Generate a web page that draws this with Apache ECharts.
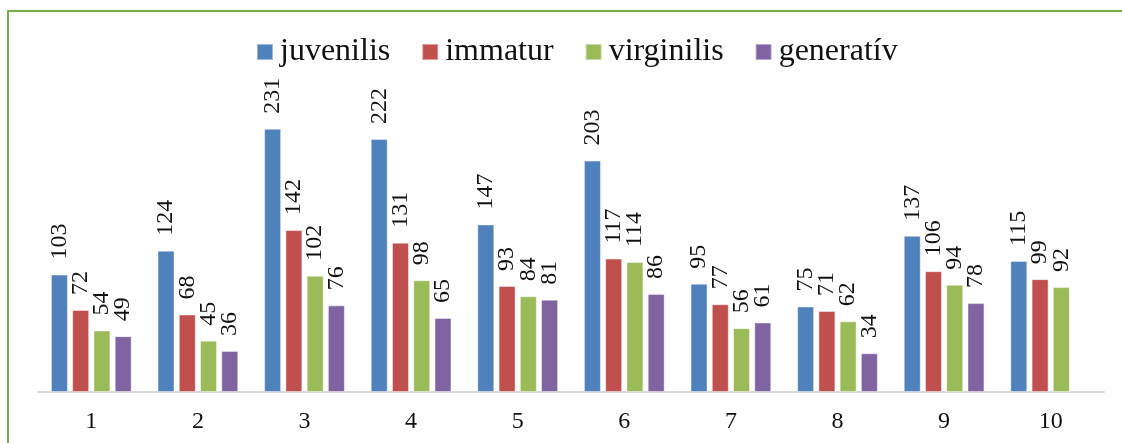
<!DOCTYPE html>
<html>
<head>
<meta charset="utf-8">
<style>
  html, body { margin: 0; padding: 0; background: #fff; }
  #chart { width: 1122px; height: 443px; }
</style>
<script src="https://cdn.jsdelivr.net/npm/echarts@6/dist/echarts.min.js"></script>
</head>
<body>
<div id="chart"></div>
<script>
// Plot numbers (1–10) and counts per developmental stage
const categories = ['1', '2', '3', '4', '5', '6', '7', '8', '9', '10'];
const juvenilis  = [103, 124, 231, 222, 147, 203, 95, 75, 137, 115];
const immatur    = [72, 68, 142, 131, 93, 117, 77, 71, 106, 99];
const virginilis = [54, 45, 102, 98, 84, 114, 56, 62, 94, 92];
const generativ  = [49, 36, 76, 65, 81, 86, 61, 34, 78, null];

const serif = "'Liberation Serif', 'Times New Roman', serif";

function barSeries(name, data, color) {
  return {
    name: name,
    type: 'bar',
    data: data,
    barWidth: 17,
    barGap: '25%',
    itemStyle: { color: color, borderColor: 'rgba(255,255,255,0.45)', borderWidth: 1 },
    label: {
      show: true,
      position: 'top',
      rotate: 90,
      align: 'left',
      verticalAlign: 'middle',
      distance: 15,
      fontFamily: serif,
      fontSize: 24,
      color: '#111'
    }
  };
}

const chart = echarts.init(document.getElementById('chart'), null, { renderer: 'canvas' });
chart.setOption({
  backgroundColor: '#fff',
  animation: false,
  graphic: [{
    type: 'rect',
    shape: { x: 8, y: 11, width: 1300, height: 600 },
    style: { fill: 'none', stroke: '#78AD4B', lineWidth: 2 },
    silent: true,
    z: -1
  }],
  legend: {
    top: 31,
    left: 251,
    itemWidth: 16,
    itemHeight: 16,
    itemGap: 31,
    icon: 'rect',
    textStyle: { fontFamily: serif, fontSize: 32, color: '#111', padding: [0, 0, 0, 2] },
    data: ['juvenilis', 'immatur', 'virginilis', 'generatív']
  },
  grid: { left: 38, right: 18, top: 107, bottom: 51 },
  xAxis: {
    type: 'category',
    data: categories,
    axisLine: { lineStyle: { color: '#d9d9d9', width: 2 } },
    axisTick: { show: false },
    axisLabel: { fontFamily: serif, fontSize: 24, color: '#111', margin: 18 }
  },
  yAxis: {
    type: 'value',
    min: 0,
    max: 250,
    show: false,
    splitLine: { show: false }
  },
  series: [
    barSeries('juvenilis', juvenilis, '#4F81BD'),
    barSeries('immatur', immatur, '#C0504D'),
    barSeries('virginilis', virginilis, '#9BBB59'),
    barSeries('generatív', generativ, '#8064A2')
  ]
});
</script>
</body>
</html>
